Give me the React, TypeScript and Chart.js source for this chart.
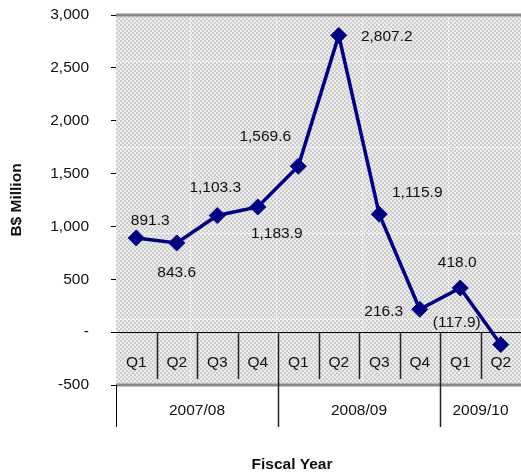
import React, { useEffect, useRef } from "react";
import { Chart, registerables } from "chart.js";

Chart.register(...registerables);

// Fiscal quarters and the balance for each (B$ million)
const quarters = ["Q1", "Q2", "Q3", "Q4", "Q1", "Q2", "Q3", "Q4", "Q1", "Q2"];
const fiscalYears = ["2007/08", "2008/09", "2009/10"];
const quartersPerYear = [4, 4, 2];
const balances = [891.3, 843.6, 1103.3, 1183.9, 1569.6, 2807.2, 1115.9, 216.3, 418.0, -117.9];

const yMin = -500;
const yMax = 3000;
const yStep = 500;

// Value-label offsets from each point, in pixels [dx, dy]
const labelOffsets: [number, number][] = [
  [14, -17], [0, 30], [-2, -28], [19, 27], [-33, -29],
  [48, 1], [38, -21], [-36, 2], [-3, -25], [-44, -22],
];

const FONT = "'Liberation Sans', Arial, sans-serif";
const FS = 15.5;

function fmtValue(v: number): string {
  const s = Math.abs(v).toLocaleString("en-US", { minimumFractionDigits: 1, maximumFractionDigits: 1 });
  return v < 0 ? `(${s})` : s;
}

// Soft grey checker used as the plot-area fill
function makePattern(ctx: CanvasRenderingContext2D): CanvasPattern | string {
  const c = document.createElement("canvas");
  c.width = 4;
  c.height = 4;
  const p = c.getContext("2d");
  if (!p) return "#dcdcdc";
  p.fillStyle = "#ededed";
  p.fillRect(0, 0, 4, 4);
  p.fillStyle = "#cdcdcd";
  p.fillRect(0, 0, 2, 2);
  p.fillRect(2, 2, 2, 2);
  return ctx.createPattern(c, "repeat") || "#dcdcdc";
}

const framePlugin = {
  id: "frame",
  beforeDatasetsDraw(chart: any) {
    const { ctx, chartArea } = chart;
    const { left, right, top, bottom } = chartArea;
    const x = chart.scales.x;
    const y = chart.scales.y;
    const zeroY = y.getPixelForValue(0);
    const catW = (right - left) / quarters.length;

    ctx.save();
    // plot background
    ctx.fillStyle = makePattern(ctx);
    ctx.fillRect(left, top, right - left, bottom - top);

    // light dotted grid
    ctx.strokeStyle = "#ffffff";
    ctx.lineWidth = 1;
    ctx.setLineDash([1, 1]);
    for (let gx = left + 74; gx < right; gx += 86) {
      ctx.beginPath();
      ctx.moveTo(Math.round(gx) + 0.5, top);
      ctx.lineTo(Math.round(gx) + 0.5, bottom);
      ctx.stroke();
    }
    for (let gy = top + 46; gy < bottom; gy += 86) {
      ctx.beginPath();
      ctx.moveTo(left, Math.round(gy) + 0.5);
      ctx.lineTo(right, Math.round(gy) + 0.5);
      ctx.stroke();
    }
    ctx.setLineDash([]);

    // top and bottom frame
    ctx.strokeStyle = "#8a8a8a";
    ctx.lineWidth = 3;
    ctx.beginPath();
    ctx.moveTo(left, top);
    ctx.lineTo(right, top);
    ctx.moveTo(left, bottom);
    ctx.lineTo(right, bottom);
    ctx.stroke();

    // zero line
    ctx.strokeStyle = "#000000";
    ctx.lineWidth = 1;
    ctx.beginPath();
    ctx.moveTo(left, Math.round(zeroY) + 0.5);
    ctx.lineTo(right, Math.round(zeroY) + 0.5);
    ctx.stroke();

    // quarter separators
    const yearEdges = new Set<number>();
    let acc = 0;
    quartersPerYear.forEach((n) => {
      acc += n;
      yearEdges.add(acc);
    });
    ctx.strokeStyle = "#222222";
    ctx.lineWidth = 1.5;
    for (let i = 1; i < quarters.length; i++) {
      const sx = Math.round(left + catW * i) + 0.5;
      ctx.beginPath();
      ctx.moveTo(sx, zeroY);
      ctx.lineTo(sx, yearEdges.has(i) ? bottom + 42 : bottom - 6);
      ctx.stroke();
    }
    // left axis extension through the year row
    ctx.strokeStyle = "#000000";
    ctx.lineWidth = 1;
    ctx.beginPath();
    ctx.moveTo(left + 0.5, bottom);
    ctx.lineTo(left + 0.5, bottom + 42);
    ctx.stroke();

    // quarter labels
    ctx.fillStyle = "#111111";
    ctx.font = `${FS}px ${FONT}`;
    ctx.textAlign = "center";
    ctx.textBaseline = "middle";
    quarters.forEach((q, i) => {
      ctx.fillText(q, x.getPixelForValue(i), bottom - 22);
    });

    // fiscal year labels
    let start = 0;
    fiscalYears.forEach((fy, k) => {
      const n = quartersPerYear[k];
      const cx = left + catW * (start + n / 2);
      ctx.fillText(fy, cx, bottom + 26);
      start += n;
    });

    // axis titles
    ctx.font = `bold ${FS}px ${FONT}`;
    ctx.fillText("Fiscal Year", 292, 465);
    ctx.save();
    ctx.translate(17, 200);
    ctx.rotate(-Math.PI / 2);
    ctx.fillText("B$ Million", 0, 0);
    ctx.restore();
    ctx.restore();
  },
  afterDatasetsDraw(chart: any) {
    const { ctx } = chart;
    const meta = chart.getDatasetMeta(0);
    ctx.save();
    ctx.fillStyle = "#111111";
    ctx.font = `${FS}px ${FONT}`;
    ctx.textAlign = "center";
    ctx.textBaseline = "middle";
    meta.data.forEach((pt: any, i: number) => {
      const [dx, dy] = labelOffsets[i];
      ctx.fillText(fmtValue(balances[i]), pt.x + dx, pt.y + dy);
    });
    ctx.restore();
  },
};

export default function App() {
  const canvasRef = useRef<HTMLCanvasElement | null>(null);

  useEffect(() => {
    const canvas = canvasRef.current;
    if (!canvas) return;
    const chart = new Chart(canvas, {
      type: "line",
      data: {
        labels: quarters.map((q, i) => `${q}-${i}`),
        datasets: [
          {
            data: balances,
            borderColor: "#000080",
            backgroundColor: "#000080",
            borderWidth: 3.5,
            pointStyle: "rectRot",
            pointRadius: 8,
            pointBorderWidth: 1,
            pointBackgroundColor: "#000080",
            pointBorderColor: "#000080",
            tension: 0,
          },
        ],
      },
      options: {
        animation: false,
        responsive: false,
        devicePixelRatio: 1,
        layout: { padding: { left: 0, top: 15, right: 7, bottom: 89 } },
        plugins: {
          legend: { display: false },
          tooltip: { enabled: false },
        },
        scales: {
          x: {
            type: "category",
            display: false,
            offset: true,
          },
          y: {
            min: yMin,
            max: yMax,
            afterFit: (scale: any) => {
              scale.width = 116;
              // the label gap should not push the plot edges inward
              scale.paddingTop = 0;
              scale.paddingBottom = 0;
            },
            ticks: {
              stepSize: yStep,
              padding: 22,
              color: "#111111",
              font: { family: FONT, size: FS },
              callback: (v: any) => (Number(v) === 0 ? "-" : Number(v).toLocaleString("en-US")),
            },
            grid: {
              drawOnChartArea: false,
              drawTicks: true,
              tickLength: 5,
              tickColor: "#000000",
            },
            border: { display: true, color: "#000000", width: 1 },
          },
        },
      },
      plugins: [framePlugin],
    });
    return () => chart.destroy();
  }, []);

  return (
    <div
      style={{
        position: "fixed",
        left: 0,
        top: 0,
        width: 521,
        height: 474,
        overflow: "hidden",
        background: "#ffffff",
      }}
    >
      <canvas ref={canvasRef} width={530} height={474} style={{ display: "block", width: 530, height: 474 }} />
    </div>
  );
}
